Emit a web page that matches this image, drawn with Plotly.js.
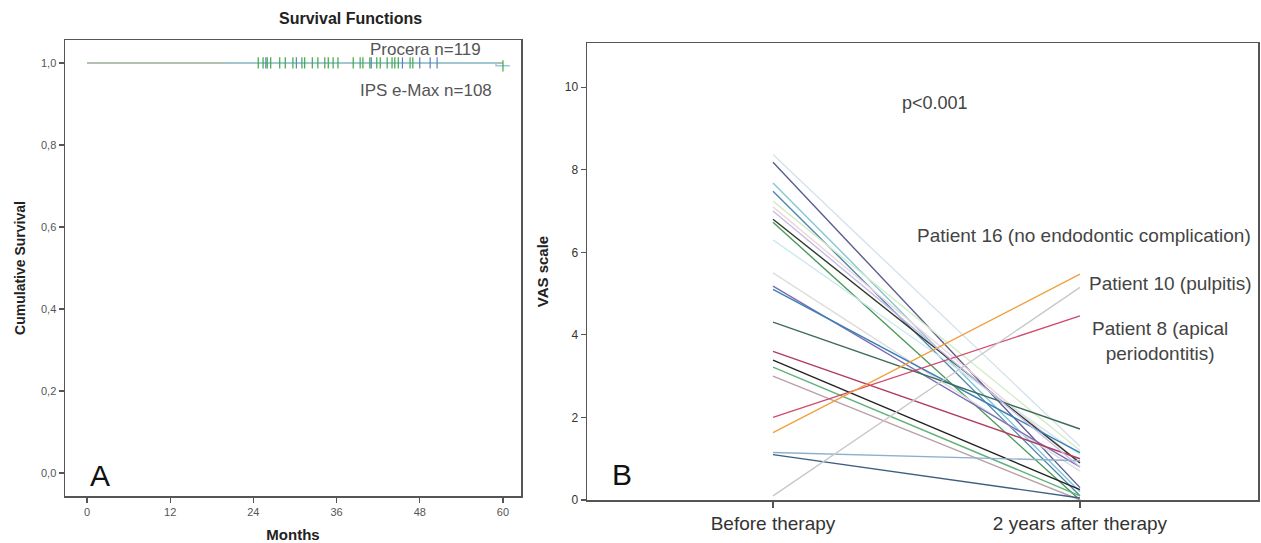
<!DOCTYPE html>
<html>
<head>
<meta charset="utf-8">
<script src="https://cdn.plot.ly/plotly-3.0.1.min.js"></script>
<style>html,body{margin:0;padding:0;background:#fff;}#chart{width:1261px;height:543px;}</style>
</head>
<body>
<div id="chart"></div>
<script>
// ---- Panel A data ----
const procLineMonths = [0, 60];
const procLineSurv = [1.0, 1.0];
const ipsLineMonths = [20, 59, 59, 61];
const ipsLineSurv = [1.0, 1.0, 0.993, 0.993];
const ipsCensor = [24.7, 25.4, 26.0, 26.5, 27.8, 28.6, 29.7, 31.0, 31.4, 32.5, 33.3, 34.3, 34.8, 35.5, 36.2, 38.4, 39.4, 39.8, 40.8, 41.8, 42.3, 43.3, 44.0, 44.4, 44.9, 46.6, 47.0, 60.0];
const procCensor = [25.8, 30.2, 41.0, 45.5, 48.0, 49.5, 50.5];
const survTicks = [0, 0.2, 0.4, 0.6, 0.8, 1.0];
const monthTicks = [0, 12, 24, 36, 48, 60];

// ---- Panel B data ----
const timepoints = ["Before therapy", "2 years after therapy"];
const vasBefore = [8.37, 8.18, 7.68, 7.48, 7.24, 7.1, 6.8, 6.73, 6.3, 5.5, 5.18, 5.1, 4.31, 3.6, 3.39, 3.22, 3.0, 2.0, 1.63, 1.15, 1.1, 0.1, 7.0];
const vasAfter  = [1.3, 0.3, 0.2, 0.1, 1.2, 0.9, 0.9, 0.0, 1.1, 0.7, 0.8, 1.15, 1.72, 1.0, 0.25, 0.1, 0.0, 4.46, 5.47, 0.95, 0.05, 5.15, 0.8];
const lineColors = ["#d3e3ee", "#5b5c8f", "#7fc8d8", "#4d86b0", "#d6ebc8", "#f0d6d6", "#2f3a2a", "#4a9a5a", "#cde9ef", "#dddddd", "#7b6bb5", "#3b7fb5", "#3d6b5a", "#b03a5b", "#222222", "#5fb37a", "#b9a0a8", "#d04a6a", "#f0a040", "#8fb0cc", "#3e5f80", "#c8c8c8", "#c4bce8"];

const traces = [];
traces.push({x: procLineMonths, y: procLineSurv, xaxis: 'x', yaxis: 'y', mode: 'lines', line: {color: '#98ab98', width: 1.5}, hoverinfo: 'skip'});
traces.push({x: ipsLineMonths, y: ipsLineSurv, xaxis: 'x', yaxis: 'y', mode: 'lines', line: {color: '#9cc9dc', width: 1.5}, hoverinfo: 'skip'});
traces.push({x: procCensor, y: procCensor.map(() => 1.0), xaxis: 'x', yaxis: 'y', mode: 'markers', marker: {symbol: 'line-ns-open', size: 8, color: '#5a7fc0', line: {width: 1.2, color: '#5a7fc0'}}, hoverinfo: 'skip'});
traces.push({x: ipsCensor, y: ipsCensor.map(m => m > 59 ? 0.993 : 1.0), xaxis: 'x', yaxis: 'y', mode: 'markers', marker: {symbol: 'line-ns-open', size: 8, color: '#3aa84a', line: {width: 1.2, color: '#3aa84a'}}, hoverinfo: 'skip'});

for (let i = 0; i < vasBefore.length; i++) {
  traces.push({x: timepoints, y: [vasBefore[i], vasAfter[i]], xaxis: 'x2', yaxis: 'y2', mode: 'lines', line: {color: lineColors[i], width: 1.4}, hoverinfo: 'skip'});
}

const axisCommon = {showgrid: false, zeroline: false, showline: true, mirror: true, linecolor: '#555', linewidth: 1.5, ticks: 'outside', tickcolor: '#555', ticklen: 5, tickwidth: 1.2};
const fnt = 'Liberation Sans, Arial, sans-serif';

const layout = {
  width: 1261, height: 543,
  margin: {l: 0, r: 0, t: 0, b: 0},
  paper_bgcolor: '#fff', plot_bgcolor: '#fff',
  showlegend: false,
  separators: ',.',
  font: {family: fnt, color: '#444'},
  xaxis: Object.assign({}, axisCommon, {domain: [65/1261, 521/1261], range: [-3.17, 62.6], tickvals: monthTicks, tickfont: {size: 11, color: '#555'}, anchor: 'y',
    title: {text: 'Months', font: {size: 15, color: '#222', family: fnt, weight: 'bold'}, standoff: 16}}),
  yaxis: Object.assign({}, axisCommon, {domain: [47/543, 503/543], range: [-0.056, 1.056], tickvals: survTicks, tickformat: '.1f', tickfont: {size: 11, color: '#555'}, anchor: 'x',
    title: {text: 'Cumulative Survival', font: {size: 14, color: '#222', family: fnt, weight: 'bold'}, standoff: 12}}),
  xaxis2: Object.assign({}, axisCommon, {domain: [587/1261, 1258/1261], type: 'category', range: [-0.606, 1.58], tickfont: {size: 19, color: '#333'}, anchor: 'y2', ticklen: 6}),
  yaxis2: Object.assign({}, axisCommon, {domain: [43/543, 500/543], range: [0, 11.07], tickvals: [0, 2, 4, 6, 8, 10], tickfont: {size: 12, color: '#333'}, anchor: 'x2',
    title: {text: 'VAS scale', font: {size: 15, color: '#222', family: fnt, weight: 'bold'}, standoff: 12}}),
  annotations: [
    {text: '<b>Survival Functions</b>', xref: 'paper', yref: 'paper', x: 350/1261, y: 1 - 18/543, showarrow: false, font: {size: 16, color: '#222'}, xanchor: 'center', yanchor: 'middle'},
    {text: 'Procera n=119', xref: 'paper', yref: 'paper', x: 425/1261, y: 1 - 50/543, showarrow: false, font: {size: 17, color: '#555'}, xanchor: 'center', yanchor: 'middle'},
    {text: 'IPS e-Max n=108', xref: 'paper', yref: 'paper', x: 426/1261, y: 1 - 90/543, showarrow: false, font: {size: 17, color: '#555'}, xanchor: 'center', yanchor: 'middle'},
    {text: 'A', xref: 'paper', yref: 'paper', x: 100/1261, y: 1 - 475/543, showarrow: false, font: {size: 30, color: '#111'}, xanchor: 'center', yanchor: 'middle'},
    {text: 'B', xref: 'paper', yref: 'paper', x: 622/1261, y: 1 - 474/543, showarrow: false, font: {size: 30, color: '#111'}, xanchor: 'center', yanchor: 'middle'},
    {text: 'p<0.001', xref: 'paper', yref: 'paper', x: 935/1261, y: 1 - 103/543, showarrow: false, font: {size: 18, color: '#444'}, xanchor: 'center', yanchor: 'middle'},
    {text: 'Patient 16 (no endodontic complication)', xref: 'paper', yref: 'paper', x: 1253/1261, y: 1 - 235/543, showarrow: false, font: {size: 19, color: '#444'}, xanchor: 'right', yanchor: 'middle'},
    {text: 'Patient 10 (pulpitis)', xref: 'paper', yref: 'paper', x: 1254/1261, y: 1 - 283/543, showarrow: false, font: {size: 19, color: '#444'}, xanchor: 'right', yanchor: 'middle'},
    {text: 'Patient 8 (apical<br>periodontitis)', xref: 'paper', yref: 'paper', x: 1160/1261, y: 1 - 341/543, showarrow: false, font: {size: 19, color: '#444'}, xanchor: 'center', yanchor: 'middle', align: 'center'}
  ]
};

Plotly.newPlot('chart', traces, layout, {staticPlot: true, displayModeBar: false});
</script>
</body>
</html>
